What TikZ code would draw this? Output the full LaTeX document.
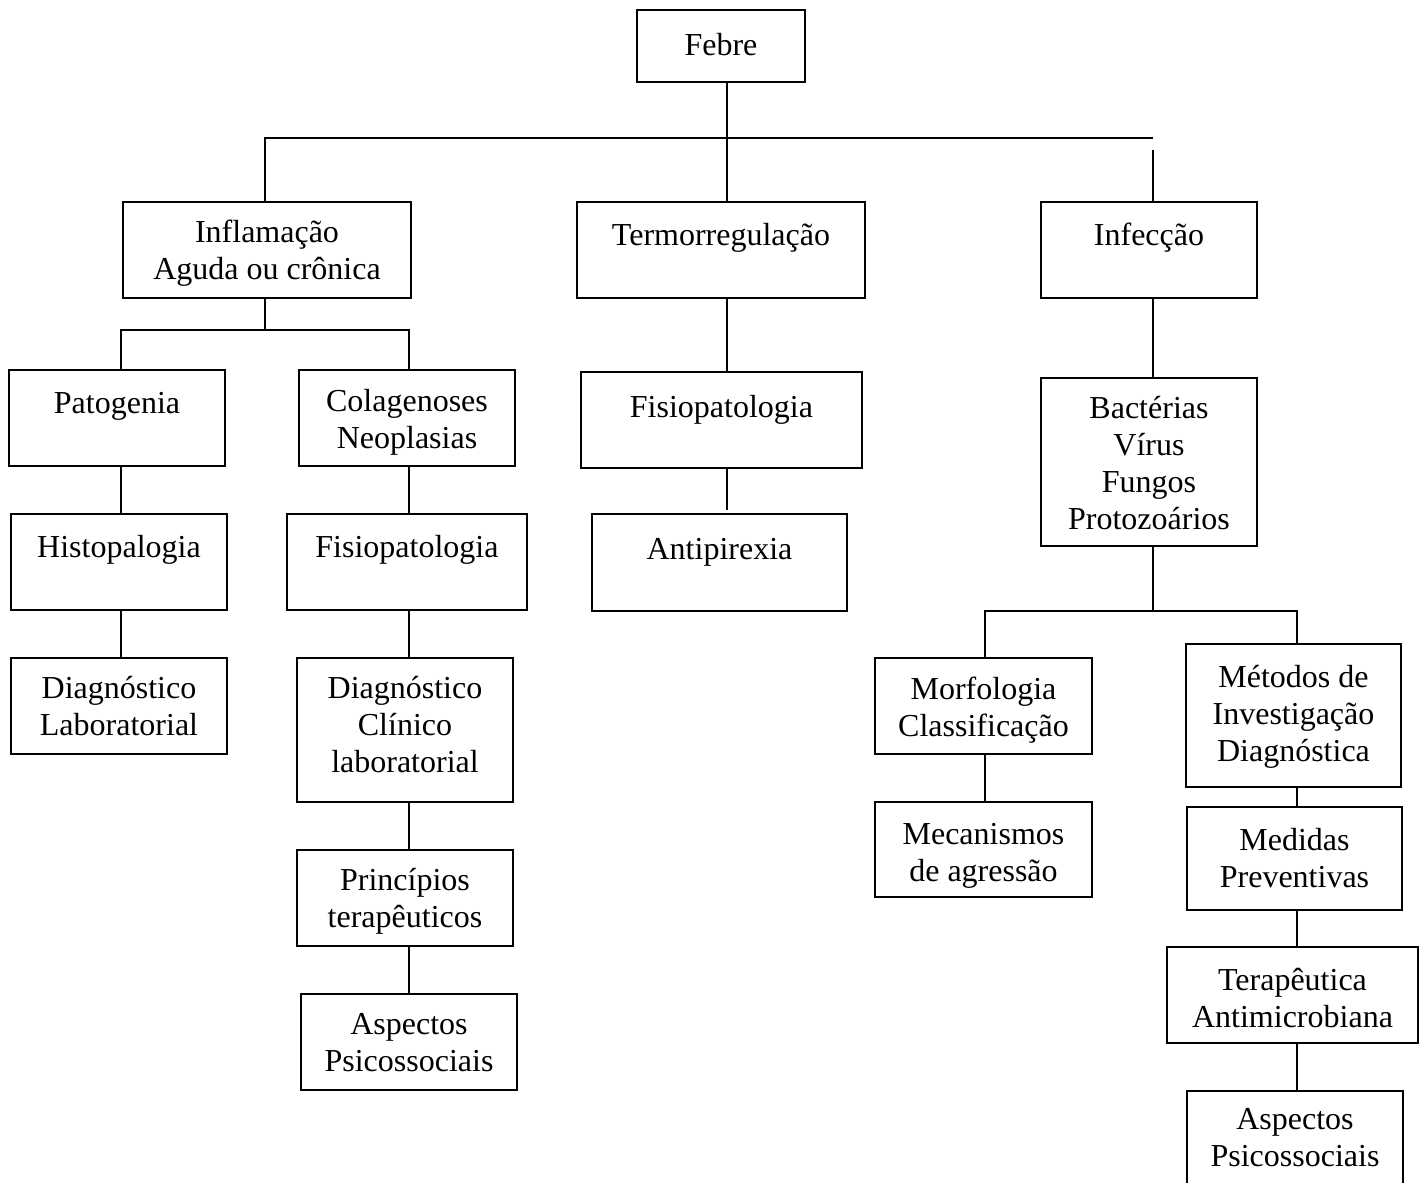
\documentclass[tikz,border=0pt]{standalone}
\usepackage{fontspec}
\setmainfont{Liberation Serif}
\tikzset{
  boxst/.style={draw=black, line width=1pt, rectangle, inner sep=0pt, fill=white},
  lblst/.style={inner sep=0pt, align=center, anchor=north, text=black,
    font=\fontsize{16}{18.45}\selectfont, execute at begin node=\strut},
  conn/.style={draw=black, line width=1pt}
}
\newcommand\bx[7]{%
  \node[boxst, minimum width={(#4-#2)*0.5pt}, minimum height={(#5-#3)*0.5pt}] (#1) at ({(#2+#4)/2},{(#3+#5)/2}) {};
  \node[lblst] (#1-t) at ({(#2+#4)/2},{#6-12.3}) {#7};
}
\begin{document}
\begin{tikzpicture}[x=0.5pt, y=-0.5pt]
\useasboundingbox (0,0) rectangle (1426,1183);
% helper coordinates for connector lines
\coordinate (hR) at (1153,137.7);
\coordinate (iTop) at (1153,150);
\coordinate (jA) at (121,330);
\coordinate (jB) at (409,330);
\coordinate (kA) at (985,610.7);
\coordinate (kB) at (1297.3,610.7);
\coordinate (kM) at (1153,610.7);

% connectors (drawn first, boxes on top)
\draw[conn] (727,82) coordinate (febreBot) -- (727,202) coordinate (termTop);
\draw[conn] (265,202) coordinate (inflTop) |- (hR);
\draw[conn] (iTop) -- (1153,202) coordinate (infecTop);
\draw[conn] (265,298) coordinate (inflBot) -- (265,330) coordinate (jI);
\draw[conn] (jA |- 0,370) coordinate (patoTop) -- (jA) -- (jB) -- (jB |- 0,370) coordinate (colagTop);
\draw[conn] (121,466) coordinate (patoBot) -- (121,514) coordinate (histoTop);
\draw[conn] (121,610) coordinate (histoBot) -- (121,658) coordinate (diagLTop);
\draw[conn] (409,466) coordinate (colagBot) -- (409,514) coordinate (fisioLTop);
\draw[conn] (409,610) coordinate (fisioLBot) -- (409,658) coordinate (diagCTop);
\draw[conn] (409,802) coordinate (diagCBot) -- (409,850) coordinate (princTop);
\draw[conn] (409,946) coordinate (princBot) -- (409,994) coordinate (aspLTop);
\draw[conn] (727,298) coordinate (termBot) -- (727,372) coordinate (fisioMTop);
\draw[conn] (727,468) coordinate (fisioMBot) -- (727,510) coordinate (antiTop);
\draw[conn] (1153,298) coordinate (infecBot) -- (1153,378) coordinate (bactTop);
\draw[conn] (1153,546) coordinate (bactBot) -- (kM);
\draw[conn] (kA |- 0,658) coordinate (morfTop) -- (kA) -- (kB) -- (kB |- 0,644) coordinate (metodTop);
\draw[conn] (985,754) coordinate (morfBot) -- (985,802) coordinate (mecanTop);
\draw[conn] (1297.3,787) coordinate (metodBot) -- (1297.3,807) coordinate (medidTop);
\draw[conn] (1297.3,910) coordinate (medidBot) -- (1297.3,947) coordinate (terapTop);
\draw[conn] (1297.3,1043) coordinate (terapBot) -- (1297.3,1091) coordinate (aspRTop);

% boxes
\bx{febre}{637}{10}{805}{82}{41.2}{Febre}
\bx{infl}{123}{202}{411}{298}{232}{Inflamação\\Aguda ou crônica}
\bx{term}{577}{202}{865}{298}{232}{Termorregulação}
\bx{infec}{1041}{202}{1257}{298}{232}{Infecção}
\bx{pato}{9}{370}{225}{466}{400}{Patogenia}
\bx{colag}{299}{370}{515}{466}{401}{Colagenoses\\Neoplasias}
\bx{histo}{11}{514}{227}{610}{544}{Histopalogia}
\bx{fisioL}{287}{514}{527}{610}{544}{Fisiopatologia}
\bx{diagL}{11}{658}{227}{754}{688}{Diagnóstico\\Laboratorial}
\bx{diagC}{297}{658}{513}{802}{688}{Diagnóstico\\Clínico\\laboratorial}
\bx{princ}{297}{850}{513}{946}{880}{Princípios\\terapêuticos}
\bx{aspL}{301}{994}{517}{1090}{1025}{Aspectos\\Psicossociais}
\bx{fisioM}{581}{372}{862}{468}{403.5}{Fisiopatologia}
\bx{anti}{592}{514}{847}{611}{546}{Antipirexia}
\bx{bact}{1041}{378}{1257}{546}{408.5}{Bactérias\\Vírus\\Fungos\\Protozoários}
\bx{morf}{875}{658}{1092}{754}{689}{Morfologia\\Classificação}
\bx{mecan}{875}{802}{1092}{897}{835}{Mecanismos\\de agressão}
\bx{metod}{1186}{644}{1401}{787}{677}{Métodos de\\Investigação\\Diagnóstica}
\bx{medid}{1187}{807}{1402}{910}{840}{Medidas\\Preventivas}
\bx{terap}{1167}{947}{1418}{1043}{980}{Terapêutica\\Antimicrobiana}
\bx{aspR}{1187}{1091}{1403}{1192}{1120}{Aspectos\\Psicossociais}
\end{tikzpicture}
\end{document}
